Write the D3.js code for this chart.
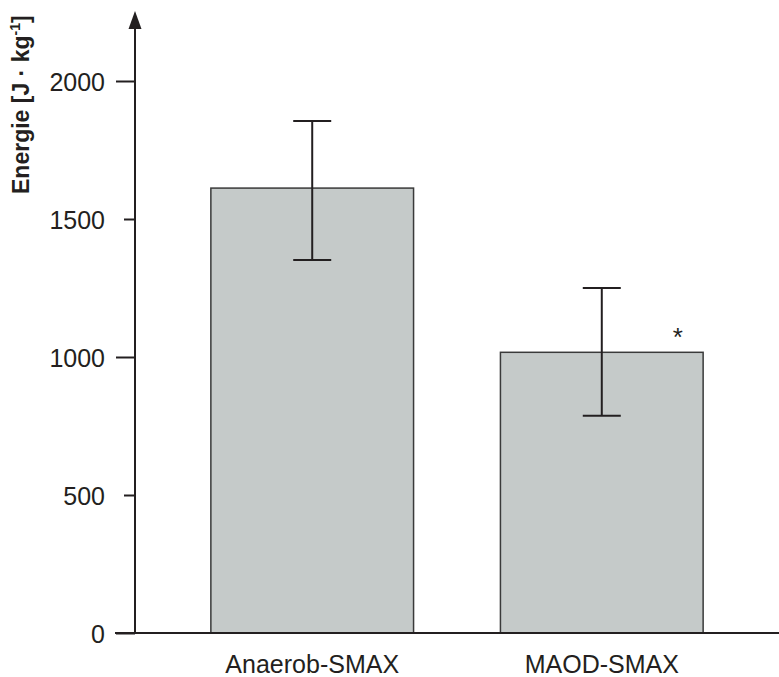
<!DOCTYPE html>
<html>
<head>
<meta charset="utf-8">
<script src="https://cdn.jsdelivr.net/npm/d3@7"></script>
<style>
  html, body { margin: 0; padding: 0; background: #fff; }
  svg { display: block; font-family: "Liberation Sans", Arial, Helvetica, sans-serif; }
</style>
</head>
<body>
<svg id="chart" width="779" height="677"></svg>
<script>
// Energy per kg for the two methods, mean ± SD
const categories = ["Anaerob-SMAX", "MAOD-SMAX"];
const means = [1612, 1017];
const errUpper = [1855, 1250];
const errLower = [1351, 787];
const significant = [false, true];
const yTicks = [0, 500, 1000, 1500, 2000];
const yLabelMain = "Energie [J · kg";
const yLabelSup = "-1";
const yLabelEnd = "]";

const svg = d3.select("#chart");
const ink = "#231f20";

const x = d3.scaleBand()
  .domain(categories)
  .range([135, 779])
  .paddingInner(0.3)
  .paddingOuter(0.262);

const y = d3.scaleLinear()
  .domain([0, 2000])
  .range([633, 81]);

const data = categories.map((c, i) => ({
  cat: c, mean: means[i], hi: errUpper[i], lo: errLower[i], sig: significant[i]
}));

// Bars
svg.append("g").selectAll("rect")
  .data(data)
  .join("rect")
  .attr("x", d => x(d.cat))
  .attr("y", d => y(d.mean))
  .attr("width", x.bandwidth())
  .attr("height", d => y(0) - y(d.mean))
  .attr("fill", "#c5cac9")
  .attr("stroke", "#3a3a3a")
  .attr("stroke-width", 1.5);

// Error bars
const capHalf = 19;
const eb = svg.append("g").attr("stroke", ink).attr("stroke-width", 2).attr("fill", "none");
data.forEach(d => {
  const cx = x(d.cat) + x.bandwidth() / 2;
  eb.append("line").attr("x1", cx).attr("x2", cx).attr("y1", y(d.hi)).attr("y2", y(d.lo));
  eb.append("line").attr("x1", cx - capHalf).attr("x2", cx + capHalf).attr("y1", y(d.hi)).attr("y2", y(d.hi));
  eb.append("line").attr("x1", cx - capHalf).attr("x2", cx + capHalf).attr("y1", y(d.lo)).attr("y2", y(d.lo));
});

// Significance marker
svg.append("g").selectAll("text")
  .data(data.filter(d => d.sig))
  .join("text")
  .attr("x", d => x(d.cat) + x.bandwidth() * 0.875)
  .attr("y", d => y(d.mean) - 6)
  .attr("text-anchor", "middle")
  .attr("font-size", 26)
  .attr("fill", ink)
  .text("*");

// Y axis
const yAxis = d3.axisLeft(y)
  .tickValues(yTicks)
  .tickSize(19)
  .tickPadding(11)
  .tickFormat(d3.format("d"));

const gy = svg.append("g").attr("transform", "translate(135,0)").call(yAxis);
gy.select(".domain").remove();
gy.selectAll(".tick line")
  .attr("stroke", ink)
  .attr("stroke-width", 2)
  .attr("x2", d => (d % 1000 === 0 ? -19 : -11));
gy.selectAll(".tick text")
  .attr("font-size", 25)
  .attr("fill", ink)
  .attr("dy", "0.36em");

// Axis line with arrow head
svg.append("line")
  .attr("x1", 135).attr("x2", 135)
  .attr("y1", y(0)).attr("y2", 26)
  .attr("stroke", ink).attr("stroke-width", 2);
svg.append("path")
  .attr("d", d3.line()([[135, 11], [141.5, 29], [128.5, 29]]) + "Z")
  .attr("fill", ink);

// X baseline
svg.append("line")
  .attr("x1", 115).attr("x2", 779)
  .attr("y1", y(0)).attr("y2", y(0))
  .attr("stroke", ink).attr("stroke-width", 2);

// Category labels
const xAxis = d3.axisBottom(x).tickSize(0).tickPadding(0);
const gx = svg.append("g").attr("transform", `translate(0,${y(0)})`).call(xAxis);
gx.select(".domain").remove();
gx.selectAll(".tick text")
  .attr("font-size", 25)
  .attr("fill", ink)
  .attr("y", 40)
  .attr("dy", null);

// Y axis title
const title = svg.append("text")
  .attr("transform", "translate(29,194) rotate(-90)")
  .attr("text-anchor", "start")
  .attr("font-size", 23)
  .attr("font-weight", "bold")
  .attr("fill", ink);
title.append("tspan").text(yLabelMain);
title.append("tspan").attr("font-size", 14).attr("dy", -9).text(yLabelSup);
title.append("tspan").attr("dy", 9).text(yLabelEnd);
</script>
</body>
</html>
